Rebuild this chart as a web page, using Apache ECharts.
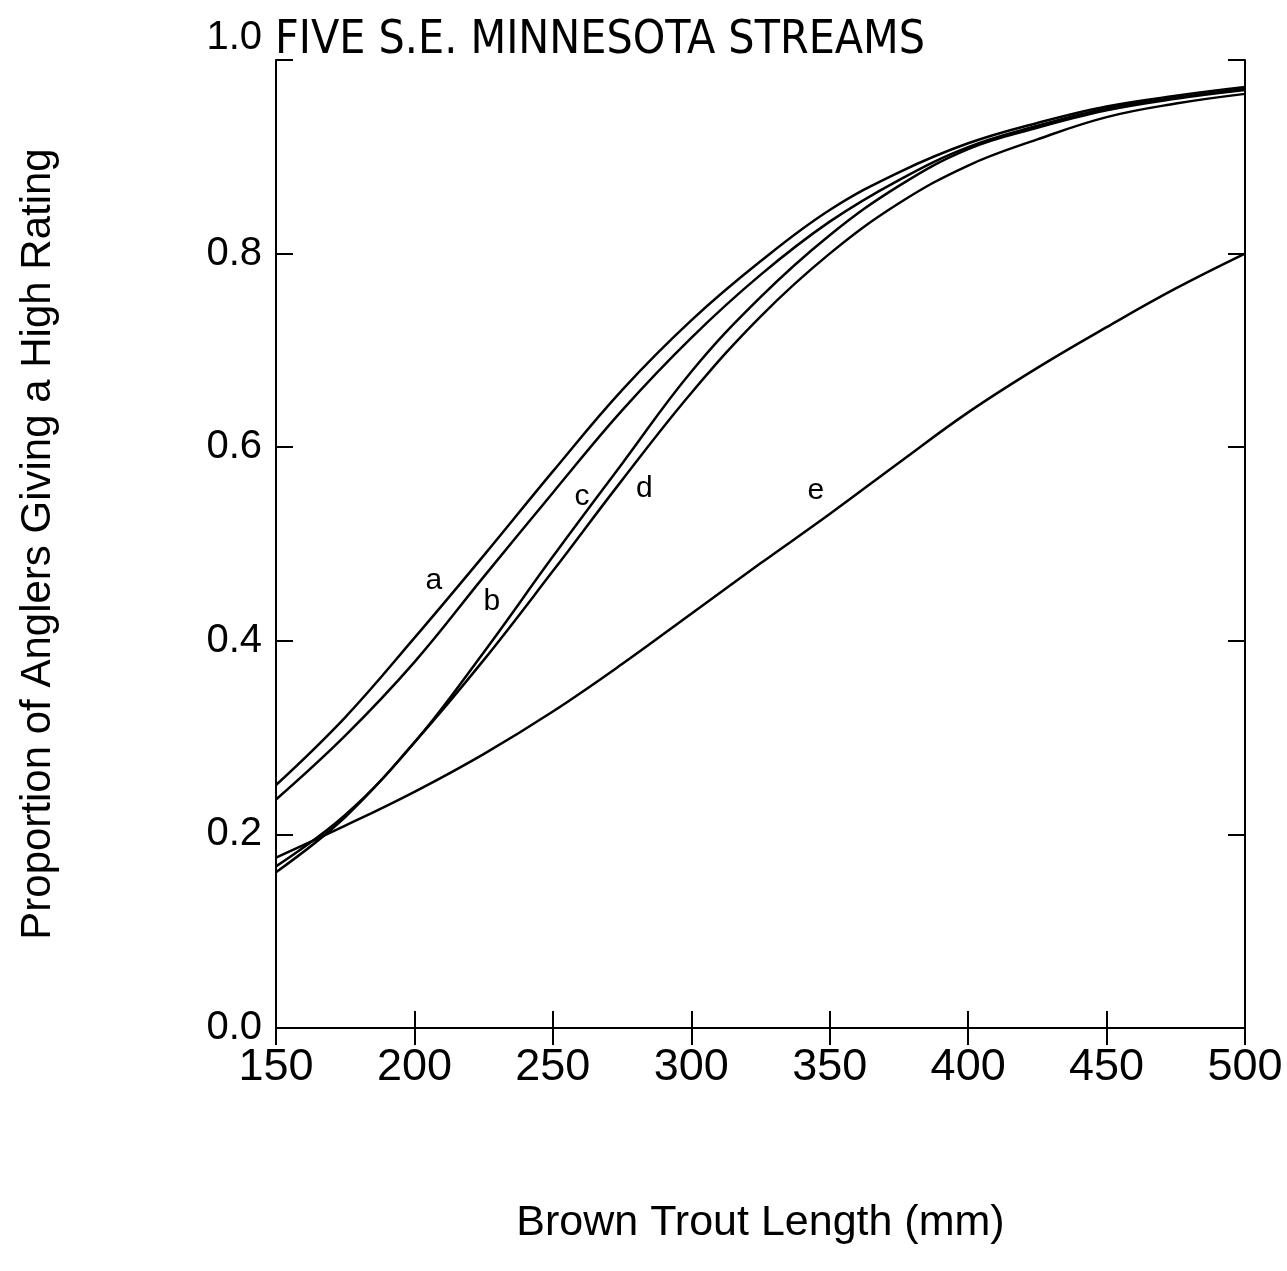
<!DOCTYPE html>
<html>
<head>
<meta charset="utf-8">
<script src="https://cdn.jsdelivr.net/npm/echarts@6/dist/echarts.min.js"></script>
<style>
  html, body { margin: 0; padding: 0; background: #fff; }
  #main { width: 1287px; height: 1271px; }
</style>
</head>
<body>
<div id="main"></div>
<script>
// brown trout length (mm)
var lengths = [150, 175, 200, 225, 250, 275, 300, 325, 350, 375, 400, 425, 450, 475, 500];
// proportion of anglers giving a high rating, one curve per stream
var streamA = [0.251, 0.321, 0.403, 0.488, 0.575, 0.659, 0.731, 0.792, 0.845, 0.884, 0.914, 0.935, 0.952, 0.963, 0.972];
var streamB = [0.236, 0.302, 0.378, 0.466, 0.553, 0.638, 0.713, 0.778, 0.833, 0.876, 0.910, 0.932, 0.950, 0.961, 0.970];
var streamC = [0.167, 0.220, 0.295, 0.388, 0.487, 0.583, 0.678, 0.755, 0.819, 0.870, 0.908, 0.930, 0.948, 0.960, 0.969];
var streamD = [0.161, 0.218, 0.295, 0.380, 0.472, 0.566, 0.656, 0.735, 0.800, 0.852, 0.891, 0.918, 0.941, 0.955, 0.965];
var streamE = [0.176, 0.209, 0.244, 0.283, 0.327, 0.376, 0.428, 0.480, 0.531, 0.584, 0.636, 0.682, 0.724, 0.764, 0.800];
var streamNames = ['a', 'b', 'c', 'd', 'e'];
// where the letter of each curve sits (length, proportion)
var letterSpots = [[207, 0.462], [228, 0.440], [260.5, 0.549], [283, 0.557], [345, 0.555]];

var ink = '#000';
var plainFont = 'Liberation Sans, Arial, sans-serif';

function pairUp(ys) {
	var out = [];
	for (var i = 0; i < lengths.length; i++) {
		out.push([lengths[i], ys[i]]);
	}
	return out;
}

var allStreams = [streamA, streamB, streamC, streamD, streamE];
var series = [];
for (var i = 0; i < allStreams.length; i++) {
	series.push({
		name: streamNames[i],
		type: 'line',
		data: pairUp(allStreams[i]),
		symbol: 'none',
		smooth: 0.4,
		lineStyle: { color: ink, width: 2.5 },
		silent: true
	});
}
// curve letters
series.push({
	type: 'scatter',
	symbolSize: 0,
	itemStyle: { opacity: 1, color: ink },
	data: letterSpots.map(function (p, k) { return { value: p, name: streamNames[k] }; }),
	label: {
		show: true,
		position: [0, 0],
		align: 'center',
		verticalAlign: 'middle',
		formatter: '{b}',
		color: ink,
		fontSize: 30,
		fontFamily: plainFont
	},
	silent: true
});

// frame axes shared bits
function boxAxis(extra) {
	var base = {
		axisLine: { show: true, lineStyle: { color: ink, width: 2 } },
		axisTick: { show: true, inside: true, length: 17, lineStyle: { color: ink, width: 2 } },
		splitLine: { show: false }
	};
	for (var k in extra) base[k] = extra[k];
	return base;
}

var option = {
	backgroundColor: '#fff',
	animation: false,
	title: {
		text: 'FIVE S.E. MINNESOTA STREAMS',
		left: 270,
		top: 13,
		textStyle: {
			color: ink,
			fontSize: 46,
			fontWeight: 'normal',
			fontFamily: 'Liberation Sans Narrow, DejaVu Sans Condensed, Arial Narrow, sans-serif'
		}
	},
	grid: { left: 276, right: 42, top: 60, bottom: 243 },
	xAxis: [
		boxAxis({
			type: 'value', min: 150, max: 500, interval: 50,
			name: 'Brown Trout Length (mm)',
			nameLocation: 'middle',
			nameGap: 174,
			nameTextStyle: { color: ink, fontSize: 43, fontFamily: plainFont },
			axisLabel: { color: ink, fontSize: 45, margin: 17, fontFamily: plainFont }
		}),
		boxAxis({
			type: 'value', min: 150, max: 500, interval: 50, position: 'top',
			axisLabel: { show: false }
		})
	],
	yAxis: [
		boxAxis({
			type: 'value', min: 0, max: 1, interval: 0.2,
			name: 'Proportion of Anglers Giving a High Rating',
			nameLocation: 'middle',
			nameGap: 217,
			nameTextStyle: { color: ink, fontSize: 42, fontFamily: plainFont },
			axisLabel: {
				color: ink, fontSize: 40, margin: 14, fontFamily: plainFont,
				lineHeight: 44,
				formatter: function (v) {
					// the top label sits a bit above its tick on the original
					return v === 1 ? '1.0\n ' : v.toFixed(1);
				}
			}
		}),
		boxAxis({
			type: 'value', min: 0, max: 1, interval: 0.2, position: 'right',
			axisLabel: { show: false }
		})
	],
	series: series
};

var chart = echarts.init(document.getElementById('main'));
chart.setOption(option);
</script>
</body>
</html>
